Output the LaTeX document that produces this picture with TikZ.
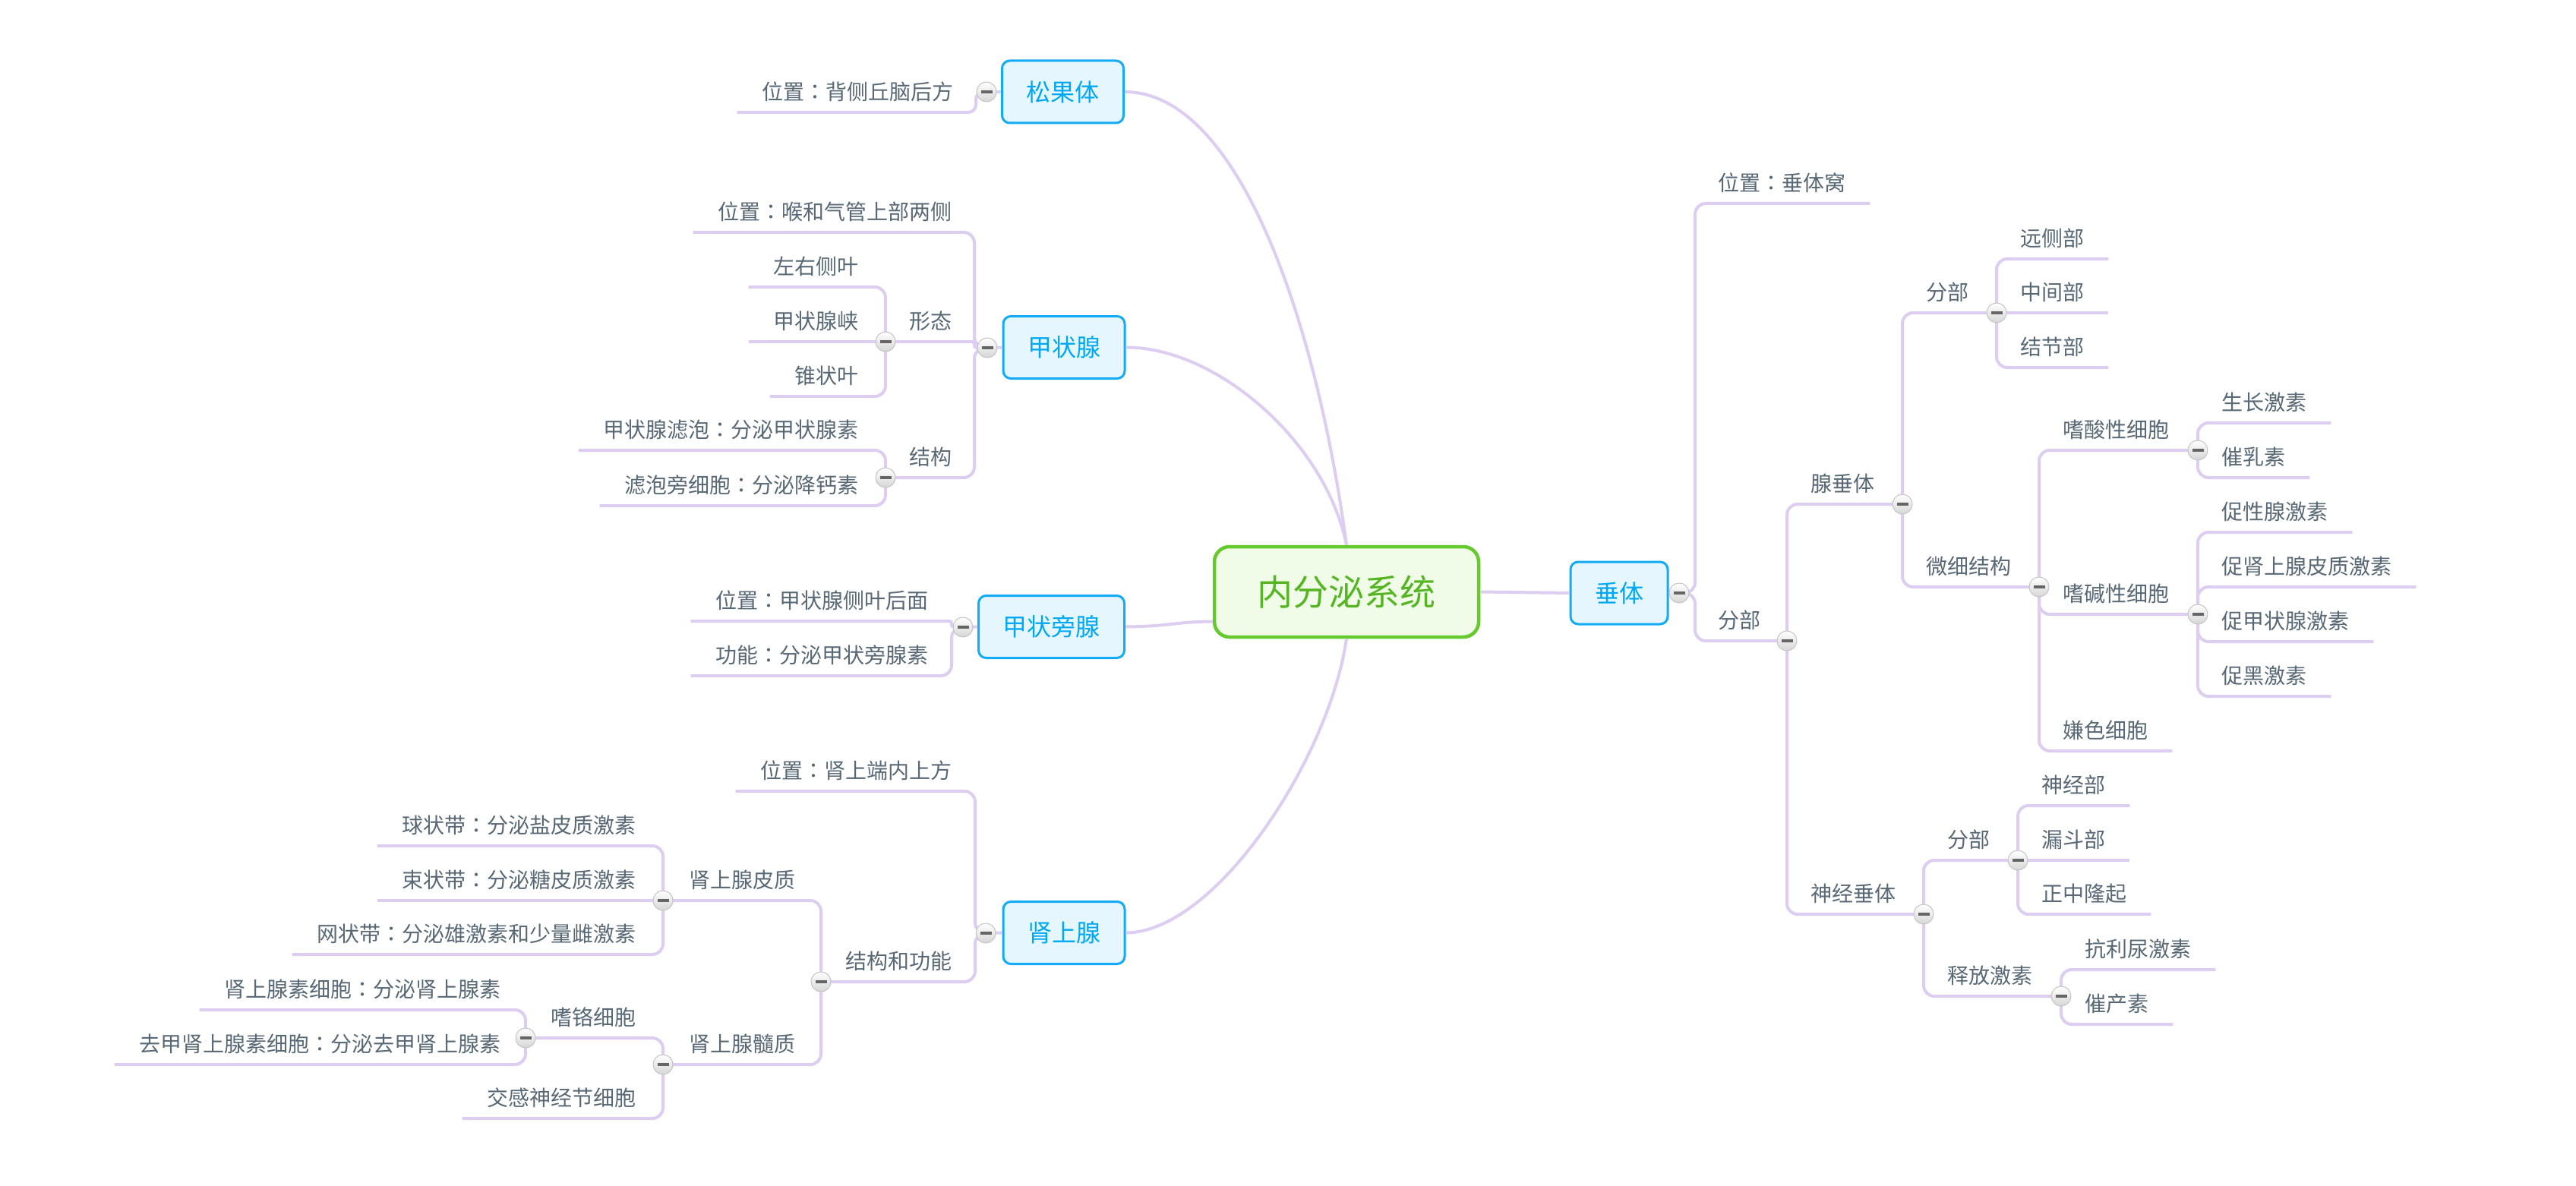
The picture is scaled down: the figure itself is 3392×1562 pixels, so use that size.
\documentclass[tikz,border=0pt]{standalone}
\usepackage{fontspec}
\setmainfont{Noto Sans CJK SC}
\newfontfamily\jpfont{Noto Sans CJK JP}
\newcommand\cln{{\jpfont ：}}
\usetikzlibrary{calc}
\definecolor{lc}{HTML}{DDCDF0}
\definecolor{tc}{HTML}{586874}
\definecolor{bb}{HTML}{14ABF5}
\definecolor{bf}{HTML}{E5F6FE}
\definecolor{bt}{HTML}{00A8F2}
\definecolor{cb}{HTML}{66C92E}
\definecolor{cf}{HTML}{F0FCE7}
\definecolor{ct}{HTML}{55B522}
\definecolor{btnb}{HTML}{C4C4C4}
\definecolor{btng}{HTML}{D6D6D6}
\definecolor{btnm}{HTML}{666666}
\tikzset{
  conn/.style={draw=lc, line width=4pt, rounded corners=14pt},
  connsm/.style={draw=lc, line width=4pt, rounded corners=3pt},
  connmd/.style={draw=lc, line width=4pt, rounded corners=10pt},
  curve/.style={draw=lc, line width=4pt},
  txt/.style={font=\fontsize{28}{30}\selectfont, text=tc, inner sep=0pt},
  topic/.style={draw=bb, fill=bf, line width=3pt, rounded corners=10pt, text=bt,
    font=\fontsize{32}{34}\selectfont, inner xsep=32pt, inner ysep=0pt, minimum height=82pt},
  central/.style={draw=cb, fill=cf, line width=4.5pt, rounded corners=20pt, text=ct,
    font=\fontsize{47}{50}\selectfont, inner sep=0pt, minimum width=348pt, minimum height=119pt},
  btn/.style={circle, minimum size=26pt, inner sep=0pt, draw=btnb, line width=1pt,
    top color=white, bottom color=btng,
    path picture={\fill[btnm] ([xshift=-7.5pt,yshift=-2pt]path picture bounding box.center)
      rectangle ([xshift=7.5pt,yshift=2pt]path picture bounding box.center);}}
}
\newcommand\RT[4]{\node[txt,anchor=west] (#1) at (#2,#3) {#4};}
\newcommand\LT[4]{\node[txt,anchor=east] (#1) at (#2,#3) {#4};}
\begin{document}
\begin{tikzpicture}[x=1pt,y=-1pt]
\useasboundingbox (0,0) rectangle (3392,1562);
\fill[white] (0,0) rectangle (3392,1562);

% ---- main nodes
\node[central] (C) at (1773,779.5) {内分泌系统};
\node[topic] (P) at (1399.5,121) {松果体};
\node[topic] (T) at (1401,457.5) {甲状腺};
\node[topic] (Q) at (1384.5,825.5) {甲状旁腺};
\node[topic] (D) at (1401,1228.5) {肾上腺};
\node[topic] (V) at (2132,781) {垂体};

% ---- curves from the centre
\draw[curve] (C.north) .. controls (1733,420) and (1630,121) .. (P.east);
\draw[curve] (C.north) .. controls (1745,580) and (1600,457) .. (T.east);
\draw[curve] ($(C.west)+(0,39)$) .. controls (1545,819) and (1540,825) .. (Q.east);
\draw[curve] (C.south) .. controls (1750,1000) and (1600,1228) .. (D.east);
\draw[curve] (C.east) -- (V.west);

% ---- button coordinates
\coordinate (b0) at (2211,781);
\coordinate (bA) at (2353,844);
\coordinate (bX) at (2505,664);
\coordinate (bN) at (2533,1204);
\coordinate (bX1) at (2629,412);
\coordinate (bW) at (2685,773);
\coordinate (bS) at (2894,593);
\coordinate (bJ) at (2894,809);
\coordinate (bN1) at (2657,1133);
\coordinate (bR) at (2714,1312);
\coordinate (bP) at (1299,121);
\coordinate (bT) at (1300,458);
\coordinate (bT1) at (1166,450);
\coordinate (bT2) at (1166,629);
\coordinate (bQ) at (1268,826);
\coordinate (bD) at (1298,1229);
\coordinate (bD1) at (1081,1293);
\coordinate (bD2) at (873,1186);
\coordinate (bD3) at (873,1402);
\coordinate (bD4) at (692,1367);

% ---- right texts
\RT{r1}{2262}{241}{位置\cln 垂体窝}
\RT{r2}{2262}{817}{分部}
\RT{r3}{2384}{637}{腺垂体}
\RT{r4}{2384}{1177}{神经垂体}
\RT{r5}{2536}{385}{分部}
\RT{r6}{2536}{746}{微细结构}
\RT{r7}{2660}{314}{远侧部}
\RT{r8}{2660}{385}{中间部}
\RT{r9}{2660}{457}{结节部}
\RT{r10}{2716}{566}{嗜酸性细胞}
\RT{r11}{2716}{782}{嗜碱性细胞}
\RT{r12}{2716}{962}{嫌色细胞}
\RT{r13}{2925}{530}{生长激素}
\RT{r14}{2925}{602}{催乳素}
\RT{r15}{2925}{674}{促性腺激素}
\RT{r16}{2925}{746}{促肾上腺皮质激素}
\RT{r17}{2925}{818}{促甲状腺激素}
\RT{r18}{2925}{890}{促黑激素}
\RT{r19}{2564}{1106}{分部}
\RT{r20}{2564}{1285}{释放激素}
\RT{r21}{2688}{1034}{神经部}
\RT{r22}{2688}{1106}{漏斗部}
\RT{r23}{2688}{1177}{正中隆起}
\RT{r24}{2745}{1250}{抗利尿激素}
\RT{r25}{2745}{1322}{催产素}

% ---- left texts
\LT{l1}{1256}{121}{位置\cln 背侧丘脑后方}
\LT{l2}{1254}{279}{位置\cln 喉和气管上部两侧}
\LT{l3}{1254}{423}{形态}
\LT{l4}{1254}{602}{结构}
\LT{l5}{1131}{351}{左右侧叶}
\LT{l6}{1131}{423}{甲状腺峡}
\LT{l7}{1131}{495}{锥状叶}
\LT{l8}{1131}{566}{甲状腺滤泡\cln 分泌甲状腺素}
\LT{l9}{1131}{639}{滤泡旁细胞\cln 分泌降钙素}
\LT{l10}{1223}{791}{位置\cln 甲状腺侧叶后面}
\LT{l11}{1223}{863}{功能\cln 分泌甲状旁腺素}
\LT{l12}{1254}{1015}{位置\cln 肾上端内上方}
\LT{l13}{1254}{1266}{结构和功能}
\LT{l14}{1048}{1159}{肾上腺皮质}
\LT{l15}{1048}{1375}{肾上腺髓质}
\LT{l16}{838}{1087}{球状带\cln 分泌盐皮质激素}
\LT{l17}{838}{1159}{束状带\cln 分泌糖皮质激素}
\LT{l18}{838}{1230}{网状带\cln 分泌雄激素和少量雌激素}
\LT{l19}{838}{1340}{嗜铬细胞}
\LT{l20}{838}{1446}{交感神经节细胞}
\LT{l21}{660}{1303}{肾上腺素细胞\cln 分泌肾上腺素}
\LT{l22}{660}{1375}{去甲肾上腺素细胞\cln 分泌去甲肾上腺素}

% ---- right connectors
\draw[conn] (V.east) -- (b0);
\draw[conn] (b0) -- (2232,781) |- ($(r1.east)+(32,27)$);
\draw[conn] (b0) -- (2232,781) |- (bA);
\draw[conn] (bA) |- (bX);
\draw[conn] (bA) |- (bN);
\draw[conn] (bX) |- (bX1);
\draw[conn] (bX) |- (bW);
\draw[conn] (bX1) |- ($(r7.east)+(32,27)$);
\draw[conn] (bX1) -- ($(r8.east)+(32,27)$);
\draw[conn] (bX1) |- ($(r9.east)+(32,27)$);
\draw[conn] (bW) |- (bS);
\draw[conn] (bW) |- (bJ);
\draw[conn] (bW) |- ($(r12.east)+(32,27)$);
\draw[conn] (bS) |- ($(r13.east)+(32,27)$);
\draw[conn] (bS) |- ($(r14.east)+(32,27)$);
\draw[conn] (bJ) |- ($(r15.east)+(32,27)$);
\draw[conn] (bJ) |- ($(r16.east)+(32,27)$);
\draw[conn] (bJ) |- ($(r17.east)+(32,27)$);
\draw[conn] (bJ) |- ($(r18.east)+(32,27)$);
\draw[conn] (bN) |- (bN1);
\draw[conn] (bN) |- (bR);
\draw[conn] (bN1) |- ($(r21.east)+(32,27)$);
\draw[conn] (bN1) -- ($(r22.east)+(32,27)$);
\draw[conn] (bN1) |- ($(r23.east)+(32,27)$);
\draw[conn] (bR) |- ($(r24.east)+(32,27)$);
\draw[conn] (bR) |- ($(r25.east)+(32,27)$);

% ---- left connectors
\draw[conn] (P.west) -- (bP);
\draw[connmd] (bP) -- (1285,121) |- ($(l1.west)+(-33,27)$);
\draw[conn] (T.west) -- (bT);
\draw[conn] (bT) -- (1283,458) |- ($(l2.west)+(-33,27)$);
\draw[connsm] (bT) -- (1283,458) |- (bT1);
\draw[conn] (bT) -- (1283,458) |- (bT2);
\draw[conn] (bT1) |- ($(l5.west)+(-33,27)$);
\draw[conn] (bT1) -- ($(l6.west)+(-33,27)$);
\draw[conn] (bT1) |- ($(l7.west)+(-33,27)$);
\draw[conn] (bT2) |- ($(l8.west)+(-33,27)$);
\draw[conn] (bT2) |- ($(l9.west)+(-33,27)$);
\draw[conn] (Q.west) -- (bQ);
\draw[connsm] (bQ) -- (1253,826) |- ($(l10.west)+(-33,27)$);
\draw[conn] (bQ) -- (1253,826) |- ($(l11.west)+(-33,27)$);
\draw[conn] (D.west) -- (bD);
\draw[conn] (bD) -- (1284,1229) |- ($(l12.west)+(-33,27)$);
\draw[conn] (bD) -- (1284,1229) |- (bD1);
\draw[conn] (bD1) |- (bD2);
\draw[conn] (bD1) |- (bD3);
\draw[conn] (bD2) |- ($(l16.west)+(-33,27)$);
\draw[conn] (bD2) -- ($(l17.west)+(-33,27)$);
\draw[conn] (bD2) |- ($(l18.west)+(-33,27)$);
\draw[conn] (bD3) |- (bD4);
\draw[conn] (bD3) |- ($(l20.west)+(-33,27)$);
\draw[conn] (bD4) |- ($(l21.west)+(-33,27)$);
\draw[conn] (bD4) |- ($(l22.west)+(-33,27)$);

% ---- collapse buttons
\foreach \b in {b0,bA,bX,bN,bX1,bW,bS,bJ,bN1,bR,bP,bT,bT1,bT2,bQ,bD,bD1,bD2,bD3,bD4}
  \node[btn] (n\b) at (\b) {};
\end{tikzpicture}
\end{document}
